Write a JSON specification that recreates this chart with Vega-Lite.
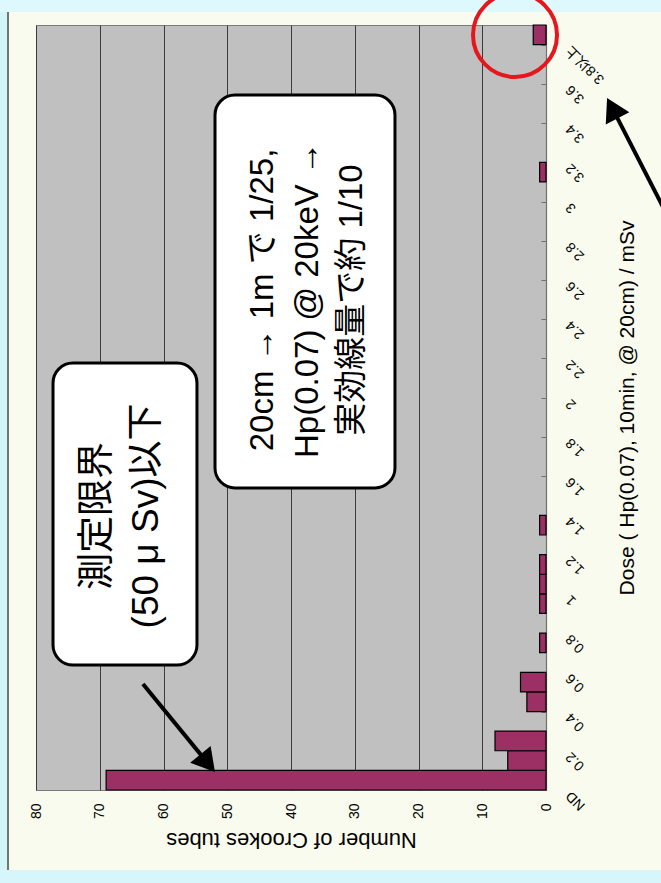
{
  "$schema": "https://vega.github.io/schema/vega-lite/v6.json",
  "width": 510,
  "height": 765,
  "autosize": {"type": "none"},
  "padding": {"left": 36, "top": 25, "right": 115, "bottom": 93},
  "background": "#F8FBEE",
  "config": {
    "view": {"fill": "#C0C0C0", "stroke": "#7a7a7a", "strokeWidth": 1},
    "font": "Liberation Sans"
  },
  "datasets": {
    "bins": [
      {"dose": "ND", "lo": 0.0, "hi": 0.1, "count": 69},
      {"dose": "0.1", "lo": 0.1, "hi": 0.2, "count": 6},
      {"dose": "0.2", "lo": 0.2, "hi": 0.3, "count": 8},
      {"dose": "0.4", "lo": 0.4, "hi": 0.5, "count": 3},
      {"dose": "0.5", "lo": 0.5, "hi": 0.6, "count": 4},
      {"dose": "0.7", "lo": 0.7, "hi": 0.8, "count": 1},
      {"dose": "0.9", "lo": 0.9, "hi": 1.0, "count": 1},
      {"dose": "1.0", "lo": 1.0, "hi": 1.1, "count": 1},
      {"dose": "1.1", "lo": 1.1, "hi": 1.2, "count": 1},
      {"dose": "1.3", "lo": 1.3, "hi": 1.4, "count": 1},
      {"dose": "3.1", "lo": 3.1, "hi": 3.2, "count": 1},
      {"dose": "3.8以上", "lo": 3.8, "hi": 3.9, "count": 2}
    ]
  },
  "layer": [
    {
      "data": {"name": "bins"},
      "mark": {"type": "rect", "fill": "#9C2F64", "stroke": "#000000", "strokeWidth": 1.2},
      "encoding": {
        "x": {
          "field": "count",
          "type": "quantitative",
          "scale": {"domain": [0, 80], "reverse": true, "nice": false, "zero": true},
          "axis": {
            "orient": "bottom",
            "values": [0, 10, 20, 30, 40, 50, 60, 70, 80],
            "labelAngle": 270,
            "labelAlign": "right",
            "labelBaseline": "middle",
            "labelFontSize": 14,
            "labelColor": "#000000",
            "labelPadding": 13,
            "labelFlush": false,
            "ticks": false,
            "domain": false,
            "grid": true,
            "gridColor": "#3a3a3a",
            "gridWidth": 1,
            "gridOpacity": 1,
            "title": "Number of Crookes tubes",
            "titleAngle": 180,
            "titleBaseline": "bottom",
            "titleFontSize": 22,
            "titleFontWeight": "normal",
            "titleColor": "#000000",
            "titlePadding": 9
          }
        },
        "x2": {"datum": 0},
        "y": {
          "field": "lo",
          "type": "quantitative",
          "scale": {"domain": [0, 3.9], "nice": false, "zero": false},
          "axis": {
            "orient": "right",
            "values": [0,0.1,0.2,0.3,0.4,0.5,0.6,0.7,0.8,0.9,1,1.1,1.2,1.3,1.4,1.5,1.6,1.7,1.8,1.9,2,2.1,2.2,2.3,2.4,2.5,2.6,2.7,2.8,2.9,3,3.1,3.2,3.3,3.4,3.5,3.6,3.7,3.8,3.9],
            "labelExpr": "round(datum.value*10) % 2 == 1 ? '' : (datum.value == 0 ? 'ND' : (datum.value > 3.75 ? '3.8以上' : format(datum.value, '~g')))",
            "labelAngle": 225,
            "labelAlign": "right",
            "labelBaseline": "middle",
            "labelFont": "Liberation Sans, Noto Sans CJK JP",
            "labelFontSize": 14,
            "labelColor": "#000000",
            "labelPadding": 27,
            "labelOffset": 3,
            "labelOverlap": false,
            "labelFlush": false,
            "labelBound": false,
            "tickSize": -5,
            "tickColor": "#707070",
            "tickWidth": 1,
            "domainColor": "#707070",
            "domainWidth": 1.2,
            "grid": false,
            "title": "Dose ( Hp(0.07), 10min, @ 20cm) / mSv",
            "titleAngle": 270,
            "titleBaseline": "top",
            "titleFontSize": 21,
            "titleFontWeight": "normal",
            "titleColor": "#000000",
            "titlePadding": 10
          }
        },
        "y2": {"field": "hi"}
      }
    },
    {
      "data": {"values": [{}]},
      "mark": {"type": "rect", "fill": "#D2F5FA", "strokeWidth": 0},
      "encoding": {"x": {"datum": 90}, "x2": {"datum": 84.39}, "y": {"datum": -0.6}, "y2": {"datum": 4.2}}
    },
    {
      "data": {"values": [{}]},
      "mark": {"type": "rect", "fill": "#DDF9FD", "strokeWidth": 0},
      "encoding": {"x": {"datum": 90}, "x2": {"datum": -20}, "y": {"datum": 3.966}, "y2": {"datum": 4.2}}
    },
    {
      "data": {"values": [{}]},
      "mark": {"type": "rect", "fill": "#D6F6FB", "strokeWidth": 0},
      "encoding": {"x": {"datum": 90}, "x2": {"datum": -20}, "y": {"datum": -0.6}, "y2": {"datum": -0.408}}
    },
    {
      "data": {"values": [{}]},
      "mark": {"type": "rule", "color": "#4a4a4a", "strokeWidth": 1.5},
      "encoding": {"x": {"datum": 84.39}, "y": {"datum": 3.966}, "y2": {"datum": -0.408}}
    },
    {
      "data": {"values": [{}]},
      "mark": {"type": "rect", "fill": "#FFFFFF", "stroke": "#000000", "strokeWidth": 3, "cornerRadius": 20},
      "encoding": {"x": {"datum": 77.33}, "x2": {"datum": 54.75}, "y": {"datum": 2.177}, "y2": {"datum": 0.637}}
    },
    {
      "data": {"values": [{}]},
      "mark": {"type": "rect", "fill": "#FFFFFF", "stroke": "#000000", "strokeWidth": 3, "cornerRadius": 20},
      "encoding": {"x": {"datum": 51.92}, "x2": {"datum": 23.69}, "y": {"datum": 3.543}, "y2": {"datum": 1.54}}
    },
    {
      "data": {"values": [{}]},
      "mark": {"type": "text", "text": ["測定限界", "(50 μ Sv)以下"], "angle": 270, "align": "center", "baseline": "middle", "font": "Liberation Sans, Noto Sans CJK JP", "fontSize": 37, "lineHeight": 49, "color": "#000000"},
      "encoding": {"x": {"datum": 70.27}, "y": {"datum": 1.397}}
    },
    {
      "data": {"values": [{}]},
      "mark": {"type": "text", "text": ["20cm → 1m で 1/25,", "Hp(0.07) @ 20keV →", "実効線量で約 1/10"], "angle": 270, "align": "center", "baseline": "middle", "font": "Liberation Sans, Noto Sans CJK JP", "fontSize": 33, "lineHeight": 44.5, "color": "#000000"},
      "encoding": {"x": {"datum": 44.39}, "y": {"datum": 2.498}}
    },
    {
      "data": {"values": [{}]},
      "mark": {"type": "rule", "color": "#000000", "strokeWidth": 4},
      "encoding": {"x": {"datum": 63.22}, "y": {"datum": 0.54}, "x2": {"datum": 53.07}, "y2": {"datum": 0.137}}
    },
    {
      "data": {"values": [{}]},
      "mark": {"type": "point", "shape": "triangle-up", "filled": true, "size": 700, "color": "#000000", "opacity": 1, "angle": 140.7},
      "encoding": {"x": {"datum": 53.07}, "y": {"datum": 0.137}}
    },
    {
      "data": {"values": [{}]},
      "mark": {"type": "rule", "color": "#000000", "strokeWidth": 4},
      "encoding": {"x": {"datum": -19.45}, "y": {"datum": 2.903}, "x2": {"datum": -10.4}, "y2": {"datum": 3.476}}
    },
    {
      "data": {"values": [{}]},
      "mark": {"type": "point", "shape": "triangle-up", "filled": true, "size": 700, "color": "#000000", "opacity": 1, "angle": 332.8},
      "encoding": {"x": {"datum": -10.4}, "y": {"datum": 3.476}}
    },
    {
      "data": {"values": [{}]},
      "mark": {"type": "point", "shape": "circle", "filled": false, "size": 7056, "color": "#E5161D", "strokeWidth": 4, "opacity": 1},
      "encoding": {"x": {"datum": 4.86}, "y": {"datum": 3.849}}
    }
  ]
}
